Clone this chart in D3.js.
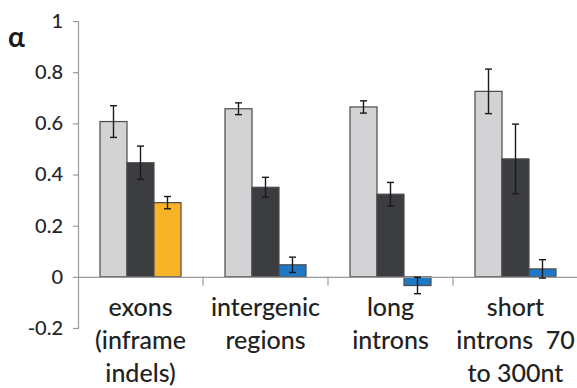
<!DOCTYPE html>
<html><head><meta charset="utf-8">
<script src="https://cdn.jsdelivr.net/npm/d3@7"></script>
<style>body{margin:0;background:#fff}svg{display:block}</style>
</head><body><svg id="c" width="577" height="388"></svg>
<script>
const categories = ["exons", "intergenic", "long", "short"];
const categoryLines = [["exons", "(inframe", "indels)"], ["intergenic", "regions"], ["long", "introns"], ["short", "introns  70", "to 300nt"]];
const series = ["s1", "s2", "s3"];
const valuesS1 = [0.607, 0.657, 0.664, 0.725];
const errorsS1 = [0.062, 0.023, 0.024, 0.087];
const valuesS2 = [0.446, 0.350, 0.323, 0.461];
const errorsS2 = [0.065, 0.039, 0.046, 0.136];
const valuesS3 = [0.290, 0.047, -0.034, 0.031];
const errorsS3 = [0.024, 0.030, 0.032, 0.036];
const yTicks = [-0.2, 0, 0.2, 0.4, 0.6, 0.8, 1];
const yTickLabels = ["-0.2", "0", "0.2", "0.4", "0.6", "0.8", "1"];

const svg = d3.select("#c");
const font = "Lato, 'Open Sans', sans-serif";
const x = d3.scaleBand().domain(categories).range([78, 578]).paddingInner(0).paddingOuter(0);
const xs = d3.scaleBand().domain(series).range([0, 81]);
const y = d3.scaleLinear().domain([-0.2, 1]).range([328, 21]);

const fillFor = (si, ci) => si === 0 ? "#d3d3d5" : si === 1 ? "#3b3d40" : (ci === 0 ? "#f8b427" : "#1e78c6");
const data = [];
[valuesS1, valuesS2, valuesS3].forEach((vals, si) => {
  const errs = [errorsS1, errorsS2, errorsS3][si];
  vals.forEach((v, ci) => data.push({c: categories[ci], ci, s: series[si], si, v, e: errs[ci]}));
});
const groupOff = (x.bandwidth() - 81) / 2;

// y axis
const yAxis = svg.append("g").attr("transform", "translate(78,0)")
  .call(d3.axisLeft(y).tickValues(yTicks).tickFormat((d, i) => yTickLabels[i]).tickSize(5).tickPadding(10));
yAxis.select(".domain").attr("stroke", "#9a9a9a").attr("stroke-width", 1.2);
yAxis.selectAll(".tick line").attr("stroke", "#9a9a9a").attr("stroke-width", 1.2);
yAxis.selectAll(".tick text").attr("font-family", font).attr("font-size", 20).attr("fill", "#262626").attr("font-weight", 500);

// bars
svg.append("g").selectAll("rect").data(data).join("rect")
  .attr("x", d => x(d.c) + groupOff + xs(d.s))
  .attr("width", xs.bandwidth())
  .attr("y", d => y(Math.max(0, d.v)))
  .attr("height", d => Math.abs(y(d.v) - y(0)))
  .attr("fill", d => fillFor(d.si, d.ci))
  .attr("stroke", "#4a4a4a").attr("stroke-width", 1.2);

// x axis baseline and category ticks
const xAxis = svg.append("g").attr("transform", `translate(0,${y(0)})`)
  .call(d3.axisBottom(x).tickSize(0).tickFormat(""));
xAxis.select(".domain").attr("stroke", "#9a9a9a").attr("stroke-width", 1.2);
svg.append("g").selectAll("line").data(categories.slice(1)).join("line")
  .attr("x1", d => x(d)).attr("x2", d => x(d))
  .attr("y1", y(0)).attr("y2", y(0) + 9)
  .attr("stroke", "#9a9a9a").attr("stroke-width", 1.2);

// error bars
const eg = svg.append("g").attr("stroke", "#1a1a1a").attr("stroke-width", 1.4);
data.forEach(d => {
  const cx = x(d.c) + groupOff + xs(d.s) + xs.bandwidth() / 2;
  eg.append("line").attr("x1", cx).attr("x2", cx).attr("y1", y(d.v + d.e)).attr("y2", y(d.v - d.e));
  [d.v + d.e, d.v - d.e].forEach(t => eg.append("line").attr("x1", cx - 3.5).attr("x2", cx + 3.5).attr("y1", y(t)).attr("y2", y(t)));
});

// category labels
const lg = svg.append("g").attr("font-family", font).attr("font-size", 25).attr("fill", "#222").attr("text-anchor", "middle").attr("font-weight", 500);
categoryLines.forEach((lines, ci) => {
  lines.forEach((ln, li) => {
    lg.append("text").attr("x", x(categories[ci]) + x.bandwidth() / 2).attr("y", 316 + li * 33).attr("xml:space", "preserve").style("white-space", "pre").text(ln);
  });
});

// alpha axis title
svg.append("text").attr("x", 8).attr("y", 47).attr("font-family", font).attr("font-size", 28).attr("font-weight", "bold").attr("fill", "#1a1a1a").text("α");
</script></body></html>
